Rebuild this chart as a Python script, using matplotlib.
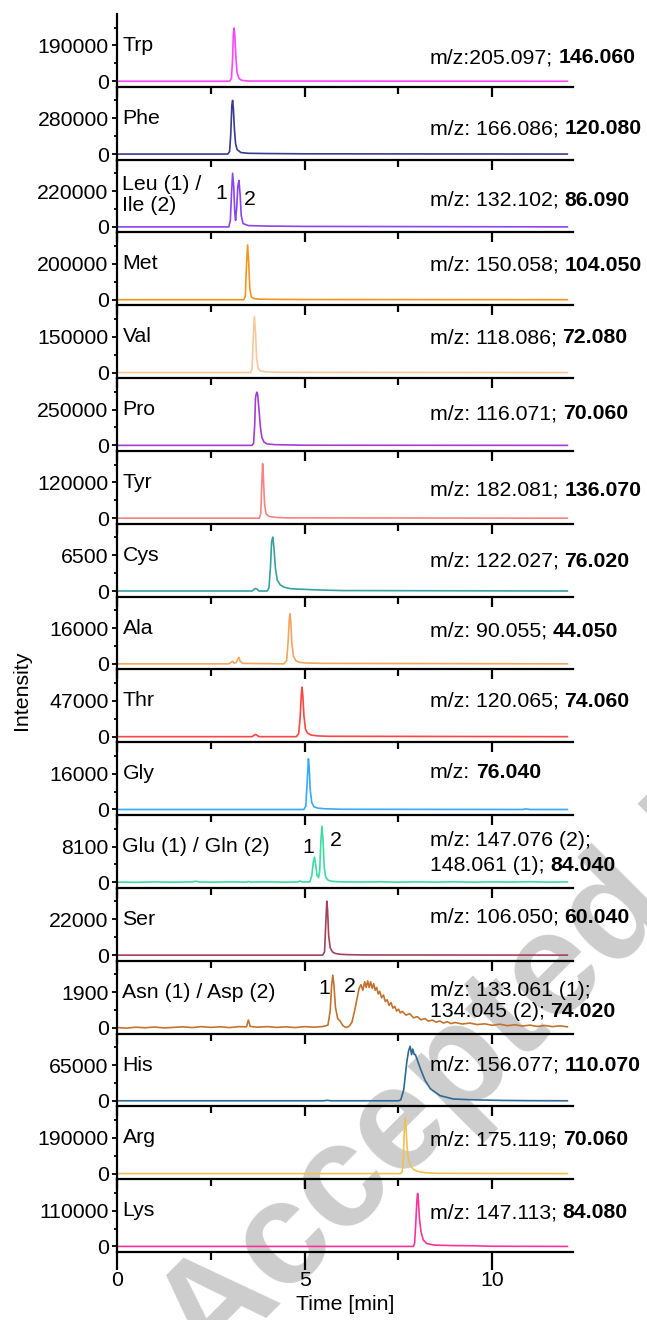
"""Stacked extracted-ion chromatograms of 17 amino acids (LC-MS/MS)."""

import matplotlib

matplotlib.use("Agg")
import matplotlib.pyplot as plt

plt.rcParams["font.family"] = ["Liberation Sans", "DejaVu Sans"]
plt.rcParams["font.size"] = 15.3

# --- panel metadata ---------------------------------------------------------
NAMES = ["Trp", "Phe", "Leu (1) /\nIle (2)", "Met", "Val", "Pro", "Tyr", "Cys",
         "Ala", "Thr", "Gly", "Glu (1) / Gln (2)", "Ser", "Asn (1) / Asp (2)",
         "His", "Arg", "Lys"]
TICKS = [190000, 280000, 220000, 200000, 150000, 250000, 120000, 6500,
         16000, 47000, 16000, 8100, 22000, 1900, 65000, 190000, 110000]
COLORS = ["#ff44ff", "#383b8e", "#8a45ec", "#f7941d", "#f8c89c", "#a23fd2",
          "#f88282", "#38a0a0", "#f5a55e", "#ff4444", "#35aaff", "#3ddba2",
          "#a3425b", "#c4732f", "#2d6a94", "#f0c050", "#ff3399"]
MZ_TEXT = [["m/z:205.097; "], ["m/z: 166.086; "], ["m/z: 132.102; "],
           ["m/z: 150.058; "], ["m/z: 118.086; "], ["m/z: 116.071; "],
           ["m/z: 182.081; "], ["m/z: 122.027; "], ["m/z: 90.055; "],
           ["m/z: 120.065; "], ["m/z: "], ["m/z: 147.076 (2);", "148.061 (1); "],
           ["m/z: 106.050; "], ["m/z: 133.061 (1);", "134.045 (2); "],
           ["m/z: 156.077; "], ["m/z: 175.119; "], ["m/z: 147.113; "]]
MZ_BOLD = ["146.060", "120.080", "86.090", "104.050", "72.080", "70.060",
           "136.070", "76.020", "44.050", "74.060", "76.040", "84.040",
           "60.040", "74.020", "110.070", "70.060", "84.080"]

# --- traces: time [min] / intensity ------------------------------------------
TRP_T = [0, 3.0, 3.05, 3.08, 3.10, 3.12, 3.14, 3.17, 3.2, 3.25, 3.32, 3.5, 12]
TRP_I = [0, 0, 15000, 120000, 250000, 283000, 240000, 120000, 45000, 15000,
         5000, 1000, 0]

PHE_T = [0, 2.95, 3.0, 3.03, 3.06, 3.08, 3.10, 3.13, 3.16, 3.2, 3.3, 3.5, 4.0,
         5.0, 12]
PHE_I = [0, 0, 20000, 150000, 380000, 420000, 360000, 190000, 80000, 35000,
         12000, 6000, 4000, 2000, 0]

LEU_T = [0, 2.98, 3.02, 3.05, 3.08, 3.11, 3.14, 3.16, 3.19, 3.22, 3.25, 3.28,
         3.31, 3.36, 3.5, 4.0, 5.0, 12]
LEU_I = [0, 0, 40000, 200000, 330000, 250000, 80000, 40000, 120000, 250000,
         286000, 200000, 70000, 20000, 8000, 5000, 3000, 0]

MET_T = [0, 3.38, 3.42, 3.45, 3.48, 3.51, 3.54, 3.58, 3.65, 3.8, 4.2, 5.0, 12]
MET_I = [0, 0, 20000, 200000, 306000, 200000, 60000, 15000, 6000, 3000, 2000,
         1000, 0]

VAL_T = [0, 3.56, 3.6, 3.63, 3.66, 3.69, 3.72, 3.76, 3.82, 3.95, 4.3, 12]
VAL_I = [0, 0, 15000, 150000, 235000, 170000, 60000, 18000, 7000, 3000, 1000, 0]

PRO_T = [0, 3.6, 3.64, 3.67, 3.69, 3.71, 3.73, 3.75, 3.78, 3.82, 3.86, 3.92,
         4.0, 4.2, 4.6, 5.0, 12]
PRO_I = [0, 0, 15000, 150000, 330000, 360000, 372000, 350000, 260000, 130000,
         55000, 22000, 10000, 5000, 3000, 1000, 0]

TYR_T = [0, 3.79, 3.83, 3.86, 3.88, 3.90, 3.93, 3.97, 4.05, 4.2, 4.5, 12]
TYR_I = [0, 0, 15000, 120000, 183000, 140000, 50000, 15000, 6000, 3000, 1000, 0]

CYS_T = [0, 3.6, 3.68, 3.72, 3.78, 4.0, 4.05, 4.09, 4.12, 4.15, 4.18, 4.22,
         4.27, 4.35, 4.45, 4.6, 4.8, 5.0, 5.3, 5.6, 6.0, 12]
CYS_I = [0, 0, 450, 400, 0, 0, 600, 4500, 9000, 9800, 8000, 4200, 2000, 1100,
         700, 450, 350, 300, 200, 150, 80, 0]

ALA_T = [0, 2.98, 3.05, 3.08, 3.12, 3.18, 3.22, 3.25, 3.28, 3.35, 4.45, 4.52,
         4.56, 4.59, 4.61, 4.63, 4.66, 4.7, 4.76, 4.85, 5.0, 5.5, 12]
ALA_I = [0, 0, 800, 1200, 300, 600, 2200, 2900, 1200, 200, 0, 1500, 10000,
         20000, 22400, 19000, 9000, 3500, 1500, 700, 400, 200, 0]

THR_T = [0, 3.6, 3.68, 3.72, 3.78, 4.78, 4.84, 4.88, 4.91, 4.93, 4.95, 4.98,
         5.02, 5.08, 5.18, 5.35, 5.6, 12]
THR_I = [0, 0, 2800, 2200, 0, 0, 4000, 25000, 55000, 65000, 55000, 28000,
         10000, 4500, 2000, 1000, 500, 0]

GLY_T = [0, 4.98, 5.03, 5.07, 5.10, 5.12, 5.15, 5.19, 5.25, 5.35, 5.55, 6.0,
         10.8, 10.9, 11.0, 12]
GLY_I = [0, 0, 1500, 13000, 22700, 19000, 8500, 3000, 1200, 600, 300, 100,
         0, 250, 0, 0]

GLU_T = [0, 0.5, 1.0, 1.5, 2.0, 2.1, 2.2, 2.5, 3.0, 3.45, 3.5, 3.55, 4.0, 4.5,
         4.82, 4.88, 4.94, 5.14, 5.19, 5.23, 5.26, 5.29, 5.33, 5.37, 5.40, 5.43,
         5.46, 5.49, 5.52, 5.56, 5.62, 5.7, 5.85, 6.0, 6.5, 7.0, 7.5, 8.0, 8.5,
         9.0, 9.5, 10.0, 10.5, 11.0, 11.5, 12.0]
GLU_I = [50, 0, 80, 20, 90, 250, 60, 30, 100, 40, 200, 50, 100, 30, 80, 300, 60,
         100, 1500, 4500, 5700, 4200, 1600, 1050, 2500, 9000, 12700, 9500, 3500,
         1200, 500, 250, 150, 100, 60, 120, 30, 100, 40, 110, 30, 100, 50, 120,
         40, 80]

SER_T = [0, 5.48, 5.53, 5.56, 5.59, 5.61, 5.64, 5.68, 5.74, 5.82, 5.95, 6.2,
         6.6, 12]
SER_I = [0, 0, 2000, 18000, 33200, 28000, 12000, 4500, 2000, 1000, 500, 250,
         100, 0]

ASN_T = [0, 0.25, 0.5, 0.75, 1.0, 1.25, 1.5, 1.75, 2.0, 2.25, 2.5, 2.75, 3.0,
         3.25, 3.45, 3.5, 3.55, 3.75, 4.0, 4.25, 4.5, 4.75, 5.0, 5.25, 5.5,
         5.62, 5.68, 5.72, 5.75, 5.78, 5.82, 5.88, 5.95, 6.02, 6.1, 6.18, 6.26,
         6.33, 6.4, 6.45, 6.5, 6.55, 6.6, 6.64, 6.68, 6.72, 6.76, 6.8, 6.84,
         6.88, 6.92, 6.96, 7.0, 7.05, 7.1, 7.15, 7.2, 7.25, 7.3, 7.35, 7.4,
         7.45, 7.5, 7.55, 7.6, 7.7, 7.8, 7.9, 8.0, 8.1, 8.2, 8.3, 8.4, 8.5,
         8.6, 8.7, 8.8, 8.9, 9.0, 9.2, 9.4, 9.6, 9.8, 10.0, 10.2, 10.4, 10.6,
         10.8, 11.0, 11.2, 11.4, 11.6, 11.8, 12.0]
ASN_I = [20, -10, 40, 10, 50, 0, 30, 60, 20, 70, 30, 60, 20, 70, 60, 420, 80,
         40, 70, 30, 60, 20, 70, 40, 80, 150, 900, 2300, 2800, 2300, 1100, 500,
         350, 120, 20, 80, 300, 900, 1600, 2100, 2300, 2000, 2450, 2150, 2500,
         2150, 2450, 2100, 2350, 2000, 2150, 1800, 1950, 1600, 1750, 1400, 1500,
         1200, 1350, 1050, 1150, 900, 1000, 800, 880, 680, 760, 540, 600, 430,
         500, 360, 420, 310, 370, 260, 330, 230, 290, 210, 260, 180, 220, 140,
         200, 120, 170, 100, 150, 80, 130, 70, 110, 60]

HIS_T = [0, 5.5, 5.6, 5.7, 7.5, 7.56, 7.64, 7.72, 7.77, 7.81, 7.85, 7.88, 7.92,
         7.95, 8.08, 8.21, 8.35, 8.61, 8.96, 9.4, 9.76, 10.3, 11, 12]
HIS_I = [0, 0, 800, 0, 0, 1500, 20000, 70000, 91000, 99000, 84000, 94000,
         84000, 84000, 59000, 37000, 21700, 9300, 3200, 2000, 1300, 600, 200, 0]

ARG_T = [0, 7.55, 7.6, 7.63, 7.66, 7.68, 7.7, 7.73, 7.77, 7.82, 7.9, 8.0, 8.2,
         8.5, 12]
ARG_I = [0, 0, 10000, 90000, 250000, 295000, 250000, 140000, 70000, 40000,
         22000, 12000, 5000, 1500, 0]

LYS_T = [0, 7.9, 7.93, 7.96, 7.99, 8.01, 8.03, 8.06, 8.1, 8.16, 8.25, 8.45,
         9.0, 9.5, 10, 12]
LYS_I = [0, 0, 10000, 70000, 140000, 163000, 140000, 85000, 45000, 20000, 9000,
         4000, 2500, 2000, 500, 0]

TRACES = [(TRP_T, TRP_I), (PHE_T, PHE_I), (LEU_T, LEU_I), (MET_T, MET_I),
          (VAL_T, VAL_I), (PRO_T, PRO_I), (TYR_T, TYR_I), (CYS_T, CYS_I),
          (ALA_T, ALA_I), (THR_T, THR_I), (GLY_T, GLY_I), (GLU_T, GLU_I),
          (SER_T, SER_I), (ASN_T, ASN_I), (HIS_T, HIS_I), (ARG_T, ARG_I),
          (LYS_T, LYS_I)]

# peak numbering: panel index -> (label, time, height in tick units)
PEAK_NUMBERS = {2: [("1", 2.79, 0.93), ("2", 3.53, 0.77)],
                11: [("1", 5.10, 0.96), ("2", 5.82, 1.16)],
                13: [("1", 5.52, 1.11), ("2", 6.21, 1.16)]}

# layout (in tick units above the zero line)
NAME_Y = [1.0] * 17
NAME_Y[2] = 0.9
MZ_Y = [[0.66], [0.71], [0.74], [0.97], [0.97], [0.89], [0.78], [0.83],
        [0.91], [0.99], [1.03], [1.17, 0.47], [1.06], [1.06, 0.47], [1.0],
        [0.94], [0.94]]

LEFT, RIGHT = 117 / 647, 573 / 647
TOP, BOTTOM = 1 - 14 / 1320, 1 - 1252 / 1320
X_MAX = 12.15
Y_LO, Y_HI = -0.156, 1.88


def draw_panel(ax, i, last):
    t, inten = TRACES[i]
    tick = TICKS[i]
    ax.set_facecolor("none")
    ax.plot(t, inten, color=COLORS[i], linewidth=1.2)
    ax.set_xlim(0, X_MAX)
    ax.set_ylim(Y_LO * tick, Y_HI * tick)

    for side in ("top", "right"):
        ax.spines[side].set_visible(False)
    for side in ("left", "bottom"):
        ax.spines[side].set_linewidth(1.6)

    ax.set_yticks([0, tick])
    ax.set_yticklabels(["0", str(tick)])
    ax.set_yticks([tick / 2, 1.5 * tick], minor=True)
    ax.set_xticks([0, 5, 10])
    ax.set_xticks([2.5, 7.5], minor=True)
    ax.tick_params(axis="y", which="major", length=3.6, width=1.3, pad=2.5)
    ax.tick_params(axis="y", which="minor", length=2.2, width=1.3)
    if last:
        ax.tick_params(axis="x", which="major", length=13, width=1.6, pad=0.5)
        ax.tick_params(axis="x", which="minor", length=6, width=1.6)
    else:
        ax.tick_params(axis="x", which="major", length=7.5, width=1.6,
                       labelbottom=False)
        ax.tick_params(axis="x", which="minor", length=5, width=1.6)

    tr = ax.get_yaxis_transform()
    ax.text(0.012, NAME_Y[i] * tick, NAMES[i], transform=tr, ha="left",
            va="center", linespacing=1.15)

    # m/z label: normal part(s), bold product ion appended to the last line
    last_txt = None
    for line, frac in zip(MZ_TEXT[i], MZ_Y[i]):
        last_txt = ax.text(0.686, frac * tick, line.rstrip(), transform=tr,
                           ha="left", va="center")
    gap = 4.2 if MZ_TEXT[i][-1].endswith(" ") else 0
    ax.annotate(MZ_BOLD[i], xy=(1, 0), xycoords=last_txt, xytext=(gap, 0),
                textcoords="offset points", ha="left", va="bottom",
                fontweight="bold")

    for label, x, frac in PEAK_NUMBERS.get(i, []):
        ax.text(x, frac * tick, label, ha="center", va="center")


def main():
    fig = plt.figure(figsize=(6.47, 13.2), dpi=100)
    n = len(NAMES)
    h = (TOP - BOTTOM) / n
    for i in range(n):
        ax = fig.add_axes([LEFT, TOP - (i + 1) * h, RIGHT - LEFT, h])
        draw_panel(ax, i, i == n - 1)

    fig.text(0.034, 0.477, "Intensity", rotation=90, ha="center", va="center")
    fig.text((LEFT + RIGHT) / 2, 0.0114, "Time [min]", ha="center",
             va="center")

    # journal watermark behind the plots (runs off the page, as in the source)
    fig.text(210 / 647, 1 - 1375 / 1320, "Accepted Manuscript", rotation=45,
             rotation_mode="anchor", ha="left", va="baseline", fontsize=105,
             fontweight="bold", color="#cdcdcd", zorder=-1)

    fig.savefig("out.png", dpi=100)


if __name__ == "__main__":
    main()
